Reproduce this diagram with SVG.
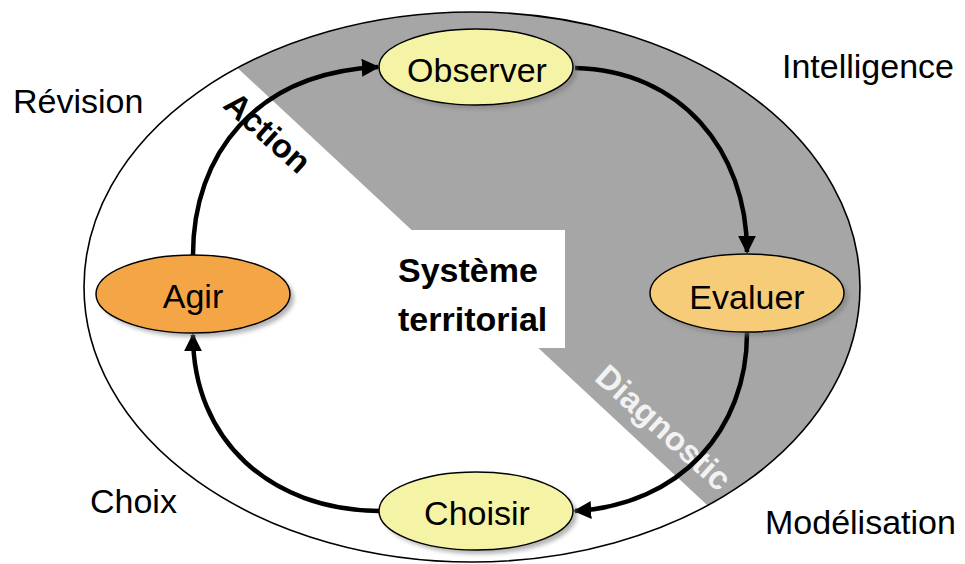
<svg xmlns="http://www.w3.org/2000/svg" width="965" height="564" viewBox="0 0 965 564">
  <defs>
    <clipPath id="outerClip">
      <ellipse cx="472" cy="287" rx="388" ry="275"/>
    </clipPath>
    <marker id="arrow" viewBox="0 0 10 10" refX="9" refY="5" markerWidth="4" markerHeight="4" orient="auto" markerUnits="strokeWidth">
      <path d="M0,0 L10,5 L0,10 Z" fill="#000"/>
    </marker>
    <filter id="blur" x="-20%" y="-20%" width="140%" height="140%">
      <feGaussianBlur stdDeviation="2"/>
    </filter>
    <style>
      .lbl { font-family: "Liberation Sans", Arial, sans-serif; font-size: 34px; fill: #000; }
      .node-text { font-family: "Liberation Sans", Arial, sans-serif; font-size: 34px; fill: #000; text-anchor: middle; }
      .node-shape { stroke: #000; stroke-width: 1.5; }
      .shadow { fill: #777; opacity: 0.55; }
      .conn { fill: none; stroke: #000; stroke-width: 4.5; marker-end: url(#arrow); }
      .bold { font-family: "Liberation Sans", Arial, sans-serif; font-weight: bold; font-size: 33px; }
      .center { font-family: "Liberation Sans", Arial, sans-serif; font-weight: bold; font-size: 34px; fill: #000; }
    </style>
  </defs>

  <rect width="965" height="564" fill="#fff"/>

  <!-- background regions -->
  <g id="background">
    <ellipse cx="472" cy="287" rx="388" ry="275" fill="#fff"/>
    <polygon points="100,-60 965,-60 965,745" fill="#a6a6a6" clip-path="url(#outerClip)"/>
    <rect x="383" y="230" width="182" height="118" fill="#fff"/>
    <ellipse cx="472" cy="287" rx="388" ry="275" fill="none" stroke="#000" stroke-width="1.6"/>
  </g>

  <!-- region labels -->
  <g id="region-labels">
    <text class="lbl" x="13" y="113">Révision</text>
    <text class="lbl" x="782" y="78">Intelligence</text>
    <text class="lbl" x="90" y="513">Choix</text>
    <text class="lbl" x="765" y="534">Modélisation</text>
    <text class="center" x="398" y="282">Système</text>
    <text class="center" x="398" y="331">territorial</text>
    <text class="bold" x="260" y="141" text-anchor="middle" fill="#000" transform="rotate(42 260 141)">Action</text>
    <text class="bold" x="656" y="436" text-anchor="middle" fill="#f2f2f2" transform="rotate(42 656 436)">Diagnostic</text>
  </g>

  <!-- connectors -->
  <g id="connectors">
    <path class="conn" d="M193,255 C193,155 255,73 378,67"/>
    <path class="conn" d="M575,68 C680,70 747,150 747,252"/>
    <path class="conn" d="M747,333 C747,430 680,505 575,511"/>
    <path class="conn" d="M379,511 C270,510 193,440 193,335"/>
  </g>

  <!-- nodes -->
  <g id="node-observer">
    <ellipse class="shadow" cx="480" cy="71" rx="97" ry="38" filter="url(#blur)"/>
    <ellipse class="node-shape" cx="476" cy="67" rx="97" ry="38" fill="#f5f3a6"/>
    <text class="node-text" x="477" y="82">Observer</text>
  </g>
  <g id="node-evaluer">
    <ellipse class="shadow" cx="751" cy="297" rx="97" ry="39" filter="url(#blur)"/>
    <ellipse class="node-shape" cx="747" cy="293" rx="97" ry="39" fill="#f6cc78"/>
    <text class="node-text" x="747" y="309">Evaluer</text>
  </g>
  <g id="node-agir">
    <ellipse class="shadow" cx="197" cy="298" rx="97" ry="39" filter="url(#blur)"/>
    <ellipse class="node-shape" cx="193" cy="294" rx="97" ry="39" fill="#f4a646"/>
    <text class="node-text" x="193" y="308">Agir</text>
  </g>
  <g id="node-choisir">
    <ellipse class="shadow" cx="480" cy="515" rx="97" ry="39" filter="url(#blur)"/>
    <ellipse class="node-shape" cx="476" cy="511" rx="97" ry="39" fill="#f5f3a6"/>
    <text class="node-text" x="477" y="525">Choisir</text>
  </g>
</svg>
